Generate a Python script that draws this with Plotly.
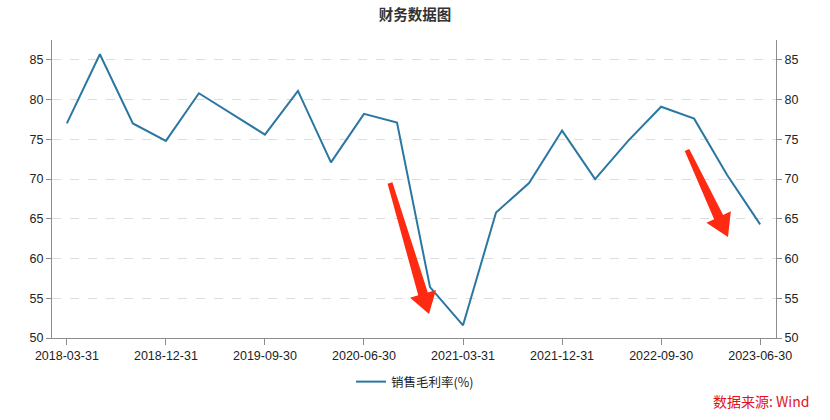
import plotly.graph_objects as go
import math

# ---- data ----
dates = [
    "2018-03-31", "2018-06-30", "2018-09-30", "2018-12-31",
    "2019-03-31", "2019-06-30", "2019-09-30", "2019-12-31",
    "2020-03-31", "2020-06-30", "2020-09-30", "2020-12-31",
    "2021-03-31", "2021-06-30", "2021-09-30", "2021-12-31",
    "2022-03-31", "2022-06-30", "2022-09-30", "2022-12-31",
    "2023-03-31", "2023-06-30",
]
gross_margin = [
    77.0, 85.7, 77.0, 74.8,
    80.8, 78.2, 75.6, 81.1,
    72.1, 78.2, 77.1, 56.4,
    51.6, 65.8, 69.5, 76.1,
    70.0, 74.8, 79.1, 77.6,
    70.5, 64.3,
]
tick_labels = ["2018-03-31", "2018-12-31", "2019-09-30", "2020-06-30",
               "2021-03-31", "2021-12-31", "2022-09-30", "2023-06-30"]
y_ticks = [50, 55, 60, 65, 70, 75, 80, 85]
series_name = "销售毛利率(%)"

# ---- layout geometry (body margin removed via post_script) ----
W, H = 830, 420
ML, MR, MT, MB = 52, 54, 40, 82
PW = W - ML - MR
PH = H - MT - MB

FONT = "Liberation Sans, Arial, Noto Sans CJK SC, sans-serif"
CJK = "Noto Sans CJK SC, Liberation Sans, sans-serif"
LINE_COLOR = "#2a77a2"
AXIS_COLOR = "#8c8c8c"


def px2paper(px, py):
    """page pixel -> paper coordinate"""
    return (px - ML) / PW, (H - MB - py) / PH


def arrow_path(sx, sy, tx, ty, w0, w1, hw, hl):
    dx, dy = tx - sx, ty - sy
    L = math.hypot(dx, dy)
    ux, uy = dx / L, dy / L
    nx, ny = -uy, ux
    bx, by = tx - ux * hl, ty - uy * hl
    pts = [
        (sx + nx * w0 / 2, sy + ny * w0 / 2),
        (bx + nx * w1 / 2, by + ny * w1 / 2),
        (bx + nx * hw / 2, by + ny * hw / 2),
        (tx, ty),
        (bx - nx * hw / 2, by - ny * hw / 2),
        (bx - nx * w1 / 2, by - ny * w1 / 2),
        (sx - nx * w0 / 2, sy - ny * w0 / 2),
    ]
    out = []
    for i, (x, y) in enumerate(pts):
        px_, py_ = px2paper(x, y)
        out.append(("M" if i == 0 else "L") + f"{px_:.5f},{py_:.5f}")
    return " ".join(out) + " Z"


fig = go.Figure()
fig.add_trace(go.Scatter(
    x=dates, y=gross_margin, mode="lines", name=series_name,
    line=dict(color=LINE_COLOR, width=2),
))
fig.add_trace(go.Scatter(
    x=dates, y=gross_margin, mode="lines", yaxis="y2",
    line=dict(color="rgba(0,0,0,0)", width=0),
    showlegend=False, hoverinfo="skip",
))

axis_common = dict(
    range=[50, 87.5], tickvals=y_ticks, ticks="outside", ticklen=5,
    tickcolor=AXIS_COLOR, showline=True, linecolor=AXIS_COLOR, linewidth=1,
    tickfont=dict(family=FONT, size=12.5, color="#222"), zeroline=False,
    automargin=False,
)

lx, ly = px2paper(415, 382)
sx_, sy_ = px2paper(811, 401)

fig.update_layout(
    width=W, height=H,
    margin=dict(l=ML, r=MR, t=MT, b=MB, autoexpand=False),
    paper_bgcolor="white", plot_bgcolor="white",
    title=dict(text="<b>财务数据图</b>", x=415 / W, xanchor="center",
               y=1 - 15 / H, yanchor="middle", yref="container",
               font=dict(family=CJK, size=14.5, color="#333")),
    xaxis=dict(
        type="category", range=[-0.45, 21.48],
        tickvals=tick_labels, ticktext=tick_labels,
        ticks="outside", ticklen=6, tickcolor=AXIS_COLOR,
        showline=True, linecolor=AXIS_COLOR, linewidth=1,
        showgrid=False, tickfont=dict(family=FONT, size=12.5, color="#222"),
        automargin=False,
    ),
    yaxis=dict(**axis_common, side="left", showgrid=True,
               gridcolor="#dddddd", griddash="dash", gridwidth=1),
    yaxis2=dict(**axis_common, side="right", overlaying="y", showgrid=False),
    legend=dict(orientation="h", x=lx, xanchor="center", y=ly,
                yanchor="middle", font=dict(family=CJK, size=12.5, color="#222")),
    showlegend=True,
)

# red arrows (annotation shapes), page-pixel geometry
fig.add_shape(type="path", xref="paper", yref="paper",
              path=arrow_path(390, 183, 429, 314, 5, 10, 27, 21),
              fillcolor="#ff2a12", line=dict(width=0))
fig.add_shape(type="path", xref="paper", yref="paper",
              path=arrow_path(687, 150, 728, 237, 5, 10, 27, 22),
              fillcolor="#ff2a12", line=dict(width=0))

fig.add_annotation(text="数据来源: Wind", xref="paper", yref="paper",
                   x=sx_, y=sy_, xanchor="right", yanchor="middle",
                   showarrow=False,
                   font=dict(family=CJK, size=14, color="#e0121b"))

fig.write_html(
    "out.html",
    config={"displayModeBar": False},
    post_script="document.body.style.margin='0';document.body.style.overflow='hidden';",
)
